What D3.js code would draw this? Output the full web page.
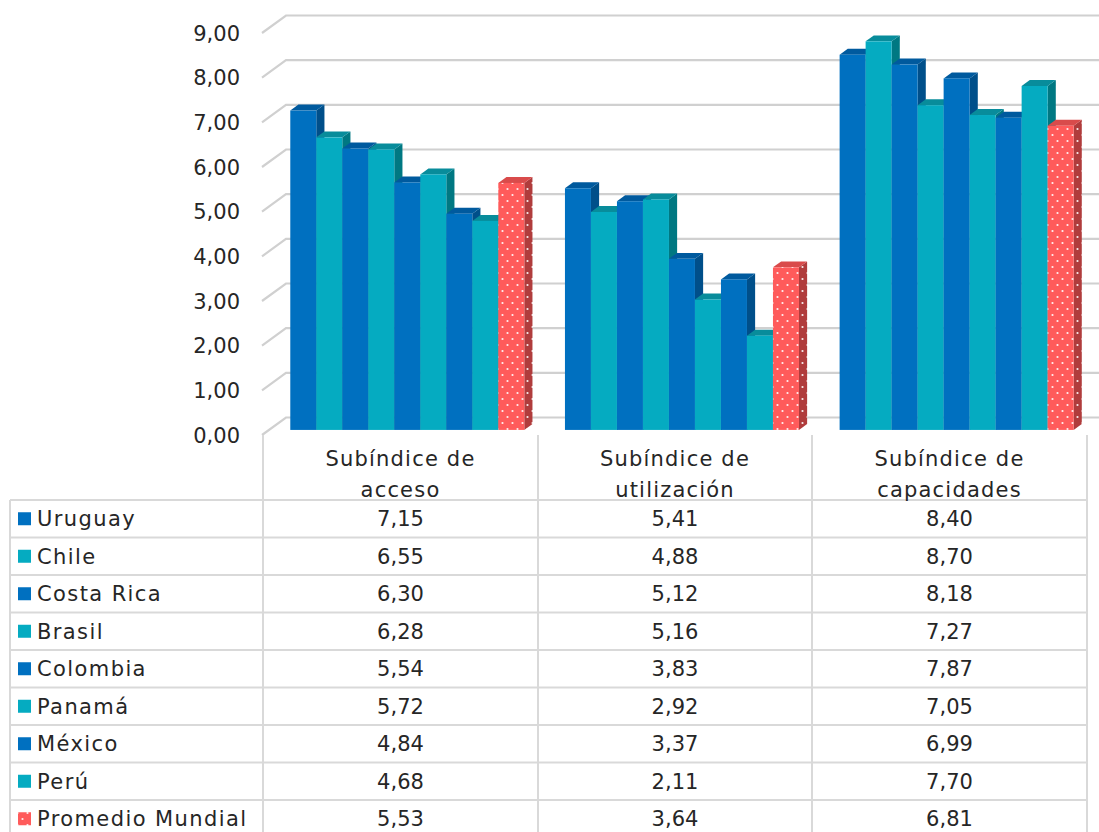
<!DOCTYPE html>
<html>
<head>
<meta charset="utf-8">
<script src="https://cdn.jsdelivr.net/npm/d3@7"></script>
<style>
  html, body { margin: 0; padding: 0; background: #fff; }
  svg { display: block; }
  text { font-family: "DejaVu Sans", sans-serif; fill: #262626; }
</style>
</head>
<body>
<svg id="chart" width="1099" height="832"></svg>
<script>
// Subindex scores per country, with the world average last
const categories = ["Subíndice de acceso", "Subíndice de utilización", "Subíndice de capacidades"];
const categoryLines = [["Subíndice de", "acceso"], ["Subíndice de", "utilización"], ["Subíndice de", "capacidades"]];
const countries = ["Uruguay", "Chile", "Costa Rica", "Brasil", "Colombia", "Panamá", "México", "Perú", "Promedio Mundial"];
const acceso = [7.15, 6.55, 6.30, 6.28, 5.54, 5.72, 4.84, 4.68, 5.53];
const utilizacion = [5.41, 4.88, 5.12, 5.16, 3.83, 2.92, 3.37, 2.11, 3.64];
const capacidades = [8.40, 8.70, 8.18, 7.27, 7.87, 7.05, 6.99, 7.70, 6.81];
const yTicks = [0, 1, 2, 3, 4, 5, 6, 7, 8, 9];

const seriesValues = countries.map((c, i) => [acceso[i], utilizacion[i], capacidades[i]]);

const W = 1099, H = 832;
const svg = d3.select("#chart");

// colour sets: front, top, side
const palette = {
  blue: { front: "#0070C0", top: "#005A9E", side: "#004F8A" },
  teal: { front: "#05ABC1", top: "#088C9B", side: "#007882" },
  red:  { front: "url(#dotsFront)", top: "#D94B4B", side: "url(#dotsSide)" }
};
const colorKey = countries.map((c, i) => i === countries.length - 1 ? "red" : (i % 2 === 0 ? "blue" : "teal"));
const swatch = { blue: "#0070C0", teal: "#05ABC1", red: "#FF5B5B" };

// dotted fills for the world average
const defs = svg.append("defs");
function dots(id, bg) {
  const p = defs.append("pattern").attr("id", id).attr("patternUnits", "userSpaceOnUse")
    .attr("width", 10).attr("height", 12);
  p.append("rect").attr("width", 10).attr("height", 12).attr("fill", bg);
  p.append("circle").attr("cx", 2.5).attr("cy", 3).attr("r", 1.1).attr("fill", "#fff").attr("opacity", 0.9);
  p.append("circle").attr("cx", 7.5).attr("cy", 9).attr("r", 1.1).attr("fill", "#fff").attr("opacity", 0.9);
}
dots("dotsFront", "#FF5B5B");
dots("dotsSide", "#B03C3C");
dots("dotsSwatch", "#FF5B5B");

// 3D frame: front plane + depth offset
const depthX = 24, depthY = -17.5;
const barFront = 0.29, barBack = 0.63;

const x = d3.scaleBand().domain(categories).range([263, 1087]).paddingInner(0.148).paddingOuter(0.074);
const xInner = d3.scaleBand().domain(countries).range([0, x.bandwidth()]);
const y = d3.scaleLinear().domain([0, 9]).range([435, 33]);

// gridlines (left wall diagonal + back wall)
const grid = svg.append("g");
yTicks.forEach(t => {
  const yf = y(t), yb = y(t) + depthY;
  grid.append("path")
    .attr("d", `M262,${yf} L${262 + depthX},${yb} L${W},${yb}`)
    .attr("fill", "none").attr("stroke", "#D0D0D0").attr("stroke-width", 2.2);
});

// y axis labels
const fmt = v => d3.format(".2f")(v).replace(".", ",");
svg.append("g").selectAll("text").data(yTicks).join("text")
  .attr("x", 240).attr("y", d => y(d)).attr("dy", "0.36em")
  .attr("text-anchor", "end").attr("font-size", 21).text(fmt);

// bars
const bars = svg.append("g");
const ox = depthX * barFront, oy = depthY * barFront;
const dx = depthX * (barBack - barFront), dy = depthY * (barBack - barFront);
categories.forEach((cat, ci) => {
  countries.forEach((c, si) => {
    const v = seriesValues[si][ci];
    const col = palette[colorKey[si]];
    const x0 = x(cat) + xInner(c) + ox;
    const x1 = x0 + xInner.bandwidth();
    const yTop = y(v) + oy, yBot = y(0) + oy;
    // side
    bars.append("path")
      .attr("d", `M${x1},${yBot} L${x1 + dx},${yBot + dy} L${x1 + dx},${yTop + dy} L${x1},${yTop} Z`)
      .attr("fill", col.side);
    // top
    bars.append("path")
      .attr("d", `M${x0},${yTop} L${x0 + dx},${yTop + dy} L${x1 + dx},${yTop + dy} L${x1},${yTop} Z`)
      .attr("fill", col.top);
    // front
    bars.append("rect")
      .attr("x", x0).attr("y", yTop).attr("width", x1 - x0).attr("height", yBot - yTop)
      .attr("fill", col.front);
  });
});

// data table
const tableLeft = 10, headerTop = 435, rowTop = 500, rowH = 37.5;
const colEdges = [263, ...categories.map(c => x(c) + x.bandwidth() + x.step() * x.paddingInner() / 2)];
colEdges[colEdges.length - 1] = 1087;
const colStarts = [263, 538, 812];
const colEnds = [538, 812, 1087];
const table = svg.append("g");
const lineStyle = s => s.attr("stroke", "#D9D9D9").attr("stroke-width", 2);

// header column lines
[263, 538, 812, 1087].forEach(xv => {
  table.append("line").attr("x1", xv).attr("x2", xv).attr("y1", headerTop).attr("y2", H).call(lineStyle);
});
table.append("line").attr("x1", tableLeft).attr("x2", tableLeft).attr("y1", rowTop).attr("y2", H).call(lineStyle);
countries.forEach((c, i) => {
  const yy = rowTop + i * rowH;
  table.append("line").attr("x1", tableLeft).attr("x2", 1087).attr("y1", yy).attr("y2", yy).call(lineStyle);
});

// header labels
categories.forEach((cat, ci) => {
  const cx = (colStarts[ci] + colEnds[ci]) / 2;
  categoryLines[ci].forEach((ln, li) => {
    table.append("text").attr("x", cx).attr("y", 458 + li * 31).attr("dy", "0.36em")
      .attr("text-anchor", "middle").attr("font-size", 21).attr("letter-spacing", 1.2).text(ln);
  });
});

// rows: legend swatch, name, values
countries.forEach((c, i) => {
  const cy = rowTop + i * rowH + rowH / 2;
  table.append("rect").attr("x", 18).attr("y", cy - 6.5).attr("width", 13).attr("height", 13)
    .attr("fill", colorKey[i] === "red" ? "url(#dotsSwatch)" : swatch[colorKey[i]]);
  table.append("text").attr("x", 37).attr("y", cy).attr("dy", "0.36em")
    .attr("font-size", 21).attr("letter-spacing", 1.4).text(c);
  seriesValues[i].forEach((v, ci) => {
    table.append("text").attr("x", (colStarts[ci] + colEnds[ci]) / 2).attr("y", cy).attr("dy", "0.36em")
      .attr("text-anchor", "middle").attr("font-size", 21).text(fmt(v));
  });
});
</script>
</body>
</html>
